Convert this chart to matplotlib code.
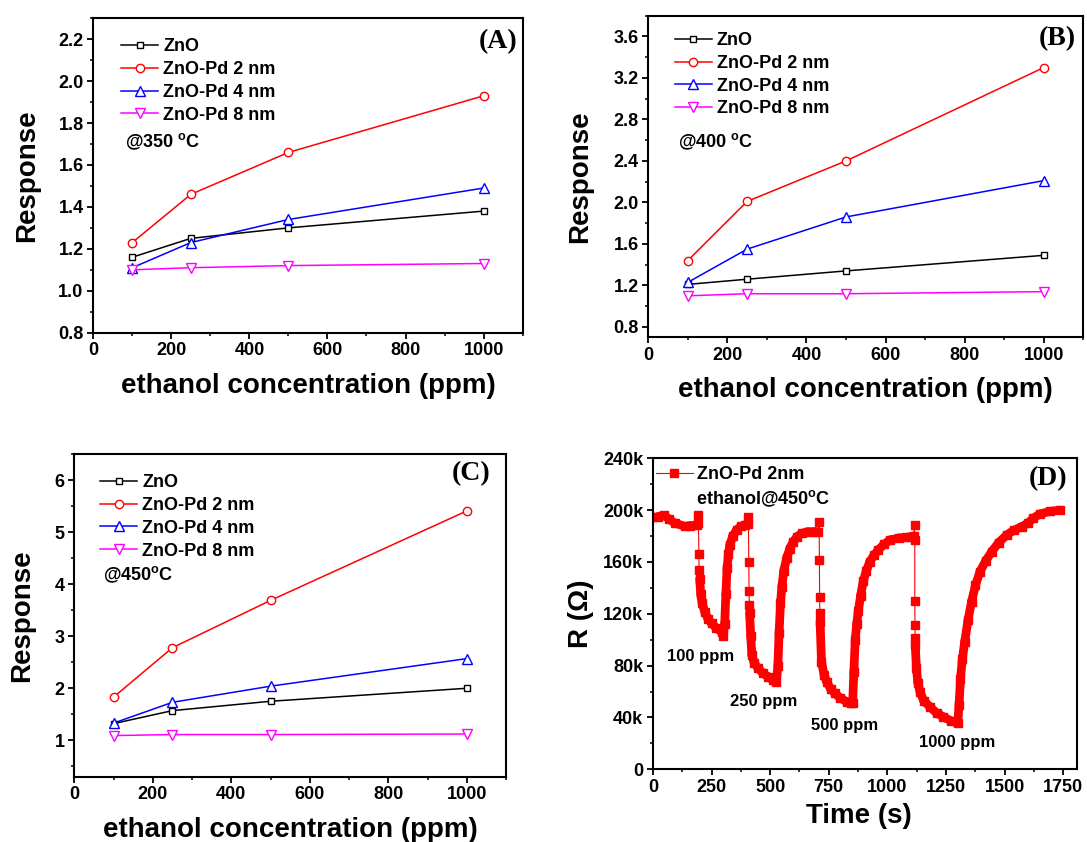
## gas response of ZnO / ZnO-Pd sensors vs ethanol concentration (A-C)
## and the dynamic resistance trace at 450 C (D)

import numpy as np
import matplotlib.pyplot as plt
from matplotlib.collections import LineCollection
from matplotlib.ticker import MultipleLocator, FuncFormatter

plt.rcParams['font.family'] = 'Liberation Sans'
plt.rcParams['font.weight'] = 'bold'
plt.rcParams['mathtext.fontset'] = 'custom'
plt.rcParams['mathtext.rm'] = 'Liberation Sans:bold'
plt.rcParams['mathtext.bf'] = 'Liberation Sans:bold'

conc = [100, 250, 500, 1000]
labels = ['ZnO', 'ZnO-Pd 2 nm', 'ZnO-Pd 4 nm', 'ZnO-Pd 8 nm']

# response @350 C
zno_350 = [1.16, 1.25, 1.30, 1.38]
pd2_350 = [1.23, 1.46, 1.66, 1.93]
pd4_350 = [1.11, 1.23, 1.34, 1.49]
pd8_350 = [1.10, 1.11, 1.12, 1.13]

# response @400 C
zno_400 = [1.21, 1.26, 1.34, 1.49]
pd2_400 = [1.44, 2.01, 2.40, 3.30]
pd4_400 = [1.23, 1.55, 1.86, 2.21]
pd8_400 = [1.10, 1.12, 1.12, 1.14]

# response @450 C
zno_450 = [1.32, 1.57, 1.75, 2.00]
pd2_450 = [1.83, 2.78, 3.69, 5.41]
pd4_450 = [1.33, 1.73, 2.04, 2.57]
pd8_450 = [1.09, 1.11, 1.11, 1.12]

# resistance trace, ZnO-Pd 2nm @450 C (time in s, R in ohm)
time_s = [0, 20, 45, 70, 93, 136, 160, 188,
          191, 194, 196, 197, 199,
          204, 210, 221, 235, 250, 270, 293, 300, 306, 311, 316, 322, 328, 340,
          357, 375, 392, 404,
          407, 409, 410, 411, 412,
          417, 422, 432, 449, 470, 491, 510, 527, 533, 538, 544, 550, 558, 570,
          583, 598, 615, 634, 660, 691, 706,
          709, 710, 711, 712, 713,
          719, 730, 741, 758, 776, 800, 826, 845, 852, 857, 863, 869, 876, 886,
          897, 910, 925, 942, 961, 985, 1011, 1050, 1080, 1103, 1112,
          1116, 1117, 1117, 1118, 1118, 1119,
          1124, 1130, 1139, 1155, 1181, 1210, 1238, 1270, 1300, 1306, 1312,
          1320, 1330, 1344, 1359, 1376, 1395, 1420, 1445, 1475, 1509, 1540,
          1573, 1600, 1622, 1650, 1693, 1736]
res_ohm = [195e3, 195e3, 196e3, 193e3, 190e3, 187.5e3, 188e3, 188.5e3,
           196e3, 190e3, 166e3, 154e3, 147e3,
           135e3, 128e3, 121.6e3, 116e3, 112.7e3, 109e3, 106e3, 103e3, 112e3,
           135e3, 155e3, 166e3, 173e3, 180e3,
           184.7e3, 187.5e3, 188.5e3, 189e3,
           194.5e3, 160e3, 137.6e3, 126.8e3, 121e3,
           103e3, 88e3, 82e3, 78e3, 74e3, 71.5e3, 69e3, 67.6e3, 80e3, 105e3,
           128e3, 141e3, 153e3, 162.8e3,
           170e3, 175.6e3, 179.5e3, 182.1e3, 183.3e3, 183.4e3, 183e3,
           191e3, 161.5e3, 133.2e3, 120.4e3, 113.9e3,
           83e3, 73e3, 67.6e3, 62e3, 58.6e3, 55e3, 52.2e3, 51e3, 50.9e3, 75e3,
           100e3, 112e3, 122e3, 134e3,
           145e3, 153e3, 160.2e3, 165e3, 169.2e3, 173.5e3, 177e3, 178.5e3,
           179e3, 179.5e3, 180e3,
           188.5e3, 177e3, 129.9e3, 111.4e3, 101.6e3, 95.9e3,
           78e3, 67e3, 60e3, 53e3, 48.3e3, 43.5e3, 40.6e3, 37.5e3, 35.5e3,
           50e3, 70e3,
           85e3, 98.5e3, 115e3, 129.3e3, 142e3, 152.5e3, 161e3, 167.9e3,
           175e3, 180.8e3, 184.5e3,
           187.2e3, 190e3, 193.7e3, 197e3, 199e3, 200e3]

dose_labels = ['100 ppm', '250 ppm', '500 ppm', '1000 ppm']
dose_label_t = [205, 474, 817, 1296]
dose_label_r = [87e3, 52e3, 34e3, 21e3]

colors = ['black', 'red', 'blue', 'magenta']
markers = ['s', 'o', '^', 'v']
msizes = [5, 6, 6.5, 6.5]

fig = plt.figure(figsize=(10.87, 8.42), dpi=100)


def style_axes(ax):
    for sp in ax.spines.values():
        sp.set_linewidth(1.5)
    ax.tick_params(which='major', direction='out', length=4, width=1.3,
                   labelsize=13, pad=3)
    ax.tick_params(which='minor', direction='out', length=2.5, width=1.1)
    for lab in ax.get_xticklabels() + ax.get_yticklabels():
        lab.set_fontweight('bold')


def response_panel(rect, series, ylim, ymaj, ymin, temp, tag,
                   leg_xy, temp_xy, tag_xy, ylab_x, xlab_y):
    ax = fig.add_axes(rect)
    for y, lab, c, m, ms in zip(series, labels, colors, markers, msizes):
        ax.plot(conc, y, color=c, lw=1.1, marker=m, ms=ms, mfc='white',
                mec=c, mew=1.0, label=lab)
    ax.set_xlim(0, 1100)
    ax.set_ylim(*ylim)
    ax.xaxis.set_major_locator(MultipleLocator(200))
    ax.xaxis.set_minor_locator(MultipleLocator(100))
    ax.yaxis.set_major_locator(MultipleLocator(ymaj))
    ax.yaxis.set_minor_locator(MultipleLocator(ymin))
    if ymaj < 1:
        ax.yaxis.set_major_formatter(FuncFormatter(lambda v, p: f'{v:.1f}'))
    style_axes(ax)
    ax.legend(loc='upper left', bbox_to_anchor=leg_xy, frameon=False,
              prop={'weight': 'bold', 'size': 13}, handlelength=2.05,
              handletextpad=0.28, labelspacing=0.32, borderpad=0,
              borderaxespad=0)
    ax.text(temp_xy[0], temp_xy[1], temp, transform=ax.transAxes,
            fontsize=13, fontweight='bold', ha='left', va='center')
    ax.text(tag_xy[0], tag_xy[1], tag, transform=ax.transAxes,
            family='Liberation Serif', fontsize=20, fontweight='bold',
            ha='right', va='center')
    ax.set_xlabel('ethanol concentration (ppm)', fontsize=20, fontweight='bold')
    ax.set_ylabel('Response', fontsize=20, fontweight='bold')
    ax.xaxis.set_label_coords(0.5, xlab_y)
    ax.yaxis.set_label_coords(ylab_x, 0.5)
    return ax


response_panel([0.0858, 0.6049, 0.395, 0.3734],
               [zno_350, pd2_350, pd4_350, pd8_350], (0.8, 2.3), 0.2, 0.1,
               r'@350 $^{\mathregular{o}}$C', '(A)',
               (0.065, 0.936), (0.074, 0.608), (0.987, 0.925), -0.124, -0.128)

response_panel([0.5964, 0.5994, 0.4002, 0.382],
               [zno_400, pd2_400, pd4_400, pd8_400], (0.7, 3.8), 0.4, 0.2,
               r'@400 $^{\mathregular{o}}$C', '(B)',
               (0.061, 0.949), (0.069, 0.608), (0.982, 0.93), -0.127, -0.122)

response_panel([0.0684, 0.0776, 0.3971, 0.3829],
               [zno_450, pd2_450, pd4_450, pd8_450], (0.3, 6.5), 1, 0.5,
               r'@450$^{\mathregular{o}}$C', '(C)',
               (0.06, 0.938), (0.066, 0.626), (0.965, 0.941), -0.092, -0.124)

# panel D: resistance transient
axd = fig.add_axes([0.6007, 0.0863, 0.3903, 0.3694])
t = np.array(time_s, dtype=float)
r = np.array(res_ohm, dtype=float)
pts = np.column_stack([t, r])
# densely sampled stretches drawn as a thick band, fast drops stay thin
segs = [pts[i:i + 2] for i in range(len(t) - 1) if t[i + 1] - t[i] >= 5]
axd.add_collection(LineCollection(segs, colors='red', linewidths=6.3,
                                  capstyle='round', joinstyle='round'))
axd.plot(t, r, color='red', lw=0.8, marker='s', ms=5.5, mfc='red',
         mec='red', label='ZnO-Pd 2nm')
for lab, tx, ry in zip(dose_labels, dose_label_t, dose_label_r):
    axd.text(tx, ry, lab, fontsize=12, fontweight='bold', ha='center',
             va='center')
axd.set_xlim(0, 1810)
axd.set_ylim(0, 240000)
axd.xaxis.set_major_locator(MultipleLocator(250))
axd.xaxis.set_minor_locator(MultipleLocator(125))
axd.yaxis.set_major_locator(MultipleLocator(40000))
axd.yaxis.set_minor_locator(MultipleLocator(20000))
axd.yaxis.set_major_formatter(
    FuncFormatter(lambda v, p: f'{int(v / 1000)}k' if v else '0'))
style_axes(axd)
axd.legend(loc='upper left', bbox_to_anchor=(0.006, 0.975), frameon=False,
           prop={'weight': 'bold', 'size': 13}, handlelength=2.1,
           handletextpad=0.2, borderpad=0, borderaxespad=0)
axd.text(0.1025, 0.869, r'ethanol@450$^{\mathregular{o}}$C',
         transform=axd.transAxes, fontsize=13, fontweight='bold',
         ha='left', va='center')
axd.text(0.976, 0.936, '(D)', transform=axd.transAxes,
         family='Liberation Serif', fontsize=20, fontweight='bold',
         ha='right', va='center')
axd.set_xlabel('Time (s)', fontsize=20, fontweight='bold')
axd.set_ylabel('R (\u03a9)', fontsize=20, fontweight='bold')
axd.xaxis.set_label_coords(0.485, -0.109)
axd.yaxis.set_label_coords(-0.139, 0.5)

fig.savefig('out.png', dpi=100)
